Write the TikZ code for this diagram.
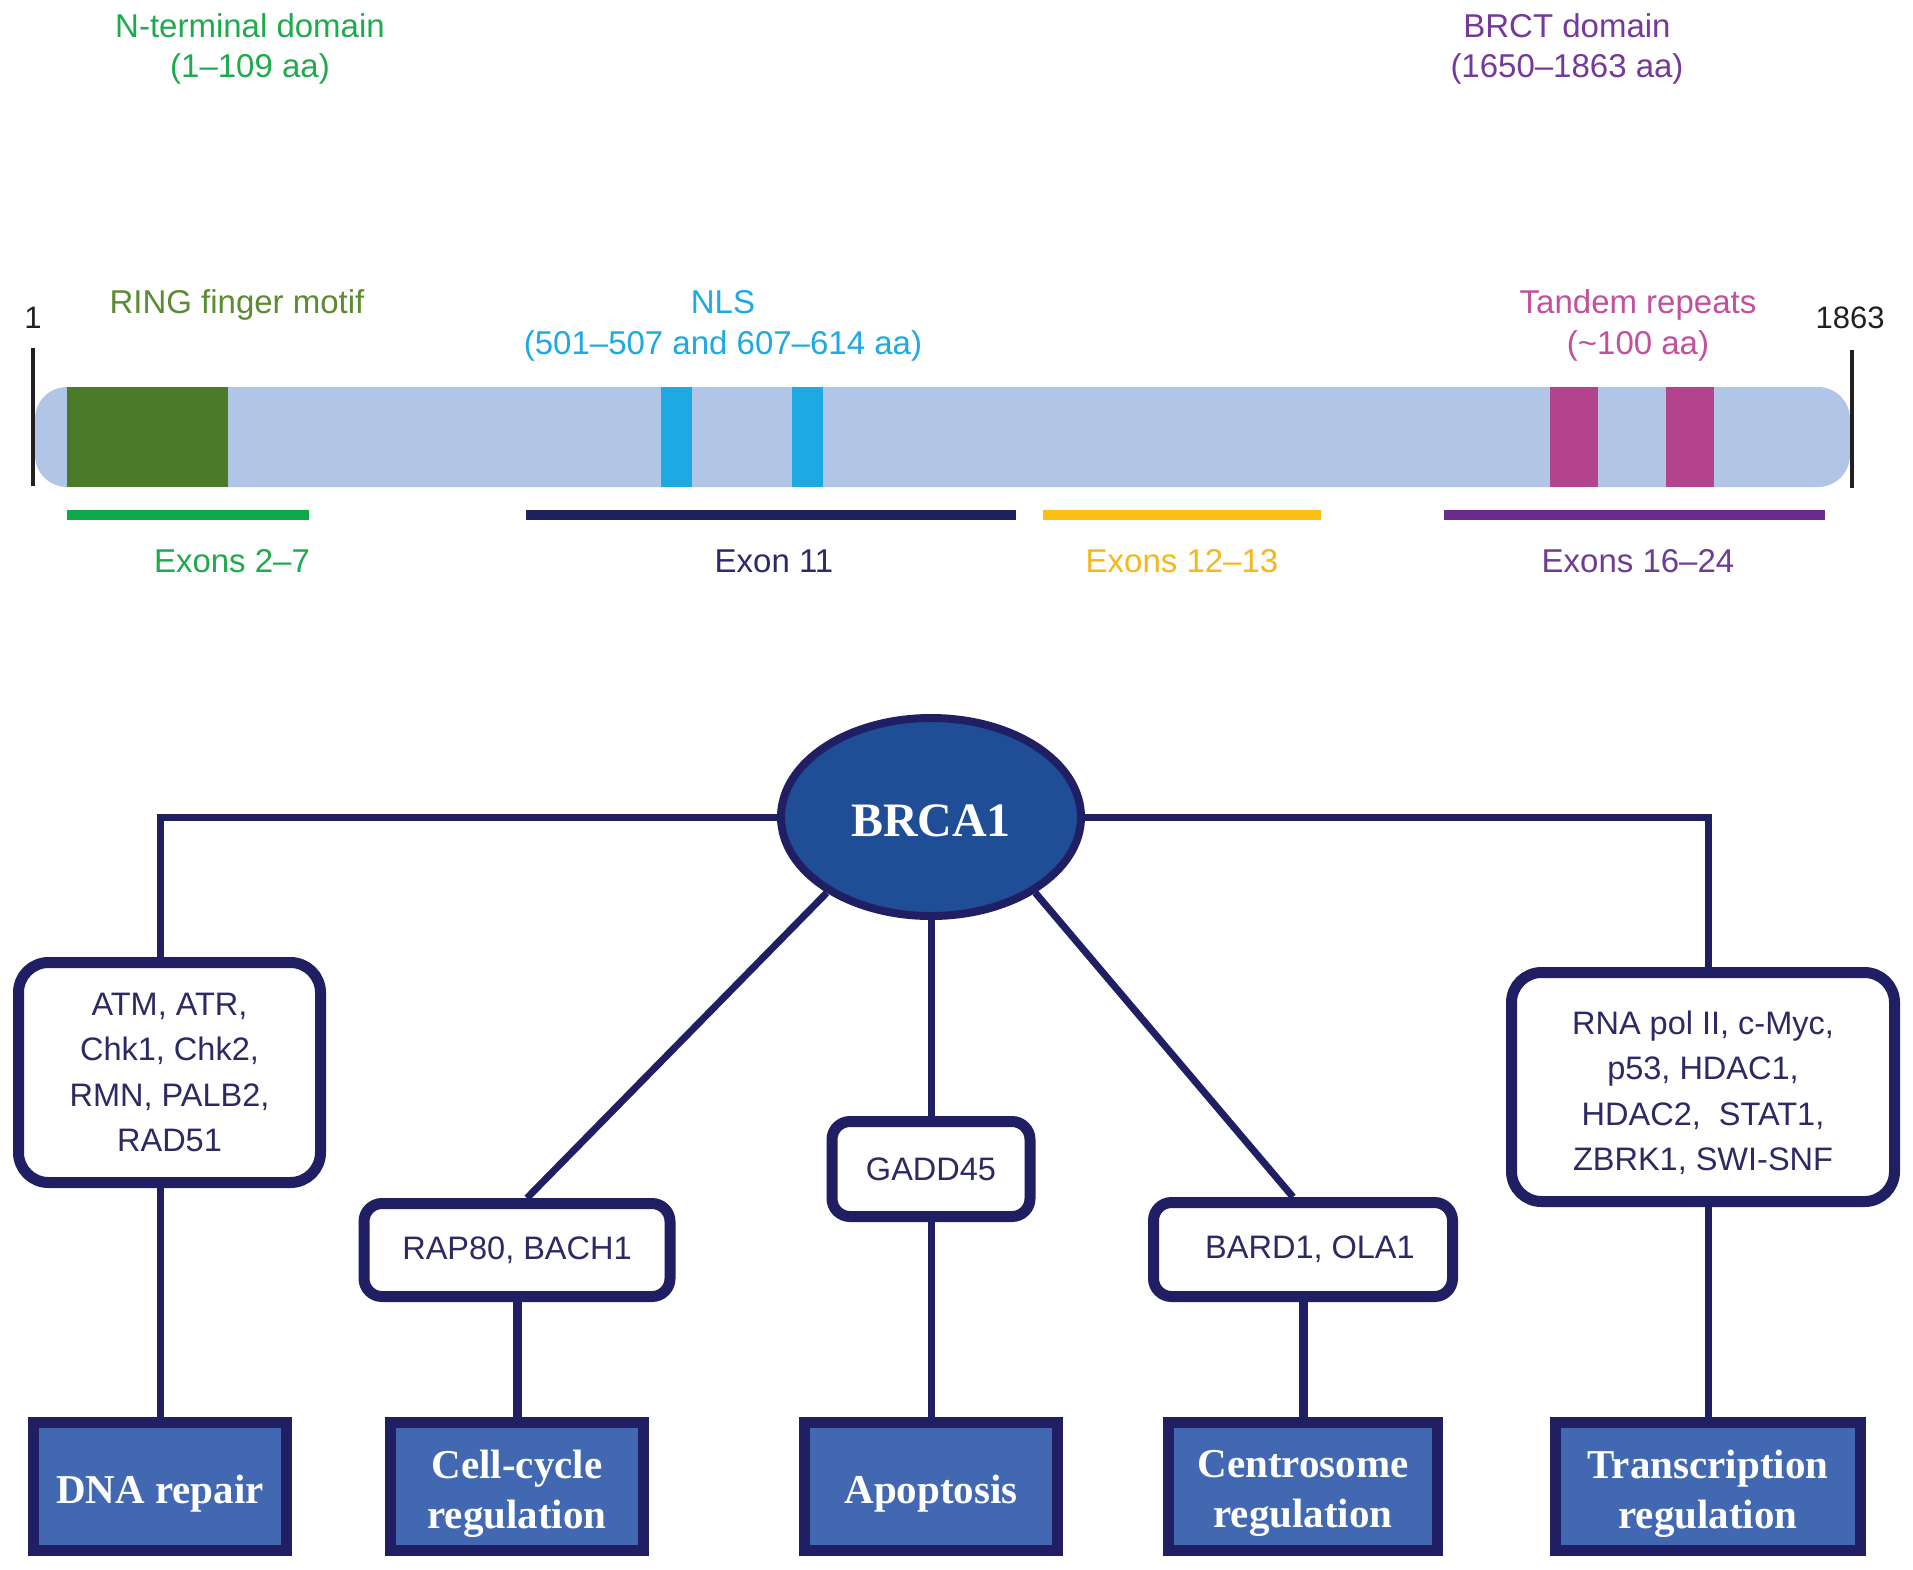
\documentclass[tikz,border=0pt]{standalone}
\usepackage{fontspec}
\setmainfont{Liberation Sans}
\newfontfamily\lsans{Liberation Sans}
\newfontfamily\tnr{Liberation Serif}
\usetikzlibrary{shapes.geometric}
\definecolor{navy}{HTML}{201F63}
\definecolor{boxtext}{HTML}{2B2A63}
\definecolor{ellfill}{HTML}{1F4E96}
\definecolor{boxfill}{HTML}{4268B1}
\definecolor{barfill}{HTML}{B1C5E7}
\definecolor{ringrect}{HTML}{4B7B29}
\definecolor{ringtext}{HTML}{5B8C32}
\definecolor{nlscol}{HTML}{1DA9E1}
\definecolor{tandrect}{HTML}{B4438E}
\definecolor{tandtext}{HTML}{C2509C}
\definecolor{ntgreen}{HTML}{1FAA4E}
\definecolor{brctpurple}{HTML}{74399A}
\definecolor{exgreen}{HTML}{0DA84A}
\definecolor{exnavy}{HTML}{1F2060}
\definecolor{exgold}{HTML}{FDBD13}
\definecolor{expurple}{HTML}{6A2C8C}
\definecolor{lblnavy}{HTML}{2B2B6B}
\definecolor{lblgold}{HTML}{F4B81C}
\definecolor{lblpurple}{HTML}{6E3D91}
\definecolor{tickblack}{HTML}{231F20}
\begin{document}
\begin{tikzpicture}[x=1pt,y=-1pt,
  lbl/.style={anchor=base, font=\lsans\fontsize{33}{40}\selectfont, inner sep=0pt},
  numlbl/.style={anchor=base, font=\lsans\fontsize{31}{38}\selectfont, inner sep=0pt, text=tickblack},
  conn/.style={draw=navy, line width=7pt},
  connthick/.style={draw=navy, line width=9pt},
  exonline/.style={line width=10pt},
  pbox/.style={draw=navy, line width=11pt, fill=white, font=\lsans\fontsize{32.5}{45.5}\selectfont, text=boxtext, align=center, inner sep=0pt},
  ptext/.style={font=\lsans\fontsize{32.5}{45.5}\selectfont, text=boxtext, align=center, inner sep=0pt},
  fbox/.style={draw=navy, line width=11pt, fill=boxfill, inner sep=0pt, minimum height=128pt},
  ftext/.style={font=\tnr\bfseries\fontsize{41}{50}\selectfont, text=white, align=center, inner sep=0pt, yshift=-7pt}]
\useasboundingbox (0,0) rectangle (1913,1569);
\fill[white] (0,0) rectangle (1913,1569);

% ---------- protein map ----------
\node[lbl, text=ntgreen] (nt1) at (250,37) {N-terminal domain};
\node[lbl, text=ntgreen] (nt2) at (250,77) {(1–109 aa)};
\node[lbl, text=brctpurple] (br1) at (1567,37) {BRCT domain};
\node[lbl, text=brctpurple] (br2) at (1567,77) {(1650–1863 aa)};

\node[numlbl] (one) at (33,328) {1};
\node[numlbl] (end) at (1850,328) {1863};
\node[lbl, text=ringtext] (ring) at (237,313) {RING finger motif};
\node[lbl, text=nlscol] (nls1) at (723,313) {NLS};
\node[lbl, text=nlscol] (nls2) at (723,354) {(501–507 and 607–614 aa)};
\node[lbl, text=tandtext] (tr1) at (1638,313) {Tandem repeats};
\node[lbl, text=tandtext] (tr2) at (1638,354) {(\textasciitilde100 aa)};

\fill[barfill, rounded corners=32pt] (35,387) rectangle (1850,487);
\fill[ringrect] (67,387) rectangle (228,487);
\fill[nlscol] (661,387) rectangle (692,487);
\fill[nlscol] (792,387) rectangle (823,487);
\fill[tandrect] (1550,387) rectangle (1598,487);
\fill[tandrect] (1666,387) rectangle (1714,487);
\draw[tickblack, line width=3.5pt] (33,348) -- (33,486);
\draw[tickblack, line width=3.5pt] (1852,350) -- (1852,488);

\draw[exonline, exgreen] (67,515) -- (309,515);
\draw[exonline, exnavy] (526,515) -- (1016,515);
\draw[exonline, exgold] (1043,515) -- (1321,515);
\draw[exonline, expurple] (1444,515) -- (1825,515);

\node[lbl, text=ntgreen] (ex1) at (232,572) {Exons 2–7};
\node[lbl, text=lblnavy] (ex2) at (774,572) {Exon 11};
\node[lbl, text=lblgold] (ex3) at (1182,572) {Exons 12–13};
\node[lbl, text=lblpurple] (ex4) at (1638,572) {Exons 16–24};

% ---------- interaction tree ----------
\node[ellipse, draw=navy, line width=8pt, fill=ellfill, minimum width=300pt, minimum height=198pt, inner sep=0pt,
      label={[text=white, font=\tnr\bfseries\fontsize{48}{56}\selectfont, inner sep=0pt, yshift=-4pt]center:BRCA1}] (brca) at (931,817) {};

\node[pbox, rounded corners=30pt, minimum width=302pt, minimum height=220pt] (atm) at (169.5,1072.5)
  {ATM, ATR,\\Chk1, Chk2,\\RMN, PALB2,\\RAD51};
\node[pbox, rounded corners=30pt, minimum width=383pt, minimum height=229pt,
      label={[ptext, yshift=-6pt]center:RNA pol II, c-Myc,\\p53, HDAC1,\\HDAC2,\ \ STAT1,\\ZBRK1, SWI-SNF}] (rna) at (1703,1087) {};
\node[pbox, rounded corners=18pt, minimum width=306pt, minimum height=93pt] (rap) at (517,1250) {RAP80, BACH1};
\node[pbox, rounded corners=18pt, minimum width=198pt, minimum height=95pt] (gadd) at (931,1169) {GADD45};
\node[pbox, rounded corners=18pt, minimum width=299pt, minimum height=94pt] (bard) at (1303,1249.5) {\hspace*{14pt}BARD1, OLA1};

\node[fbox, minimum width=253pt, label={[ftext]center:DNA repair}] (dna) at (160,1486.5) {};
\node[fbox, minimum width=253pt, label={[ftext]center:Cell-cycle\\regulation}] (cc) at (517,1486.5) {};
\node[fbox, minimum width=253pt, label={[ftext]center:Apoptosis}] (apo) at (931,1486.5) {};
\node[fbox, minimum width=269pt, label={[ftext]center:Centrosome\\regulation}] (cen) at (1303,1486.5) {};
\node[fbox, minimum width=305pt, label={[ftext]center:Transcription\\regulation}] (trn) at (1708,1486.5) {};

\draw[conn] (brca.west) -| (atm.north -| dna.north);
\draw[conn] (brca.east) -| (rna.north -| trn.north);
\draw[conn] (brca.216) -- ([xshift=10pt]rap.north);
\draw[conn] (brca.south) -- (gadd.north);
\draw[conn] (brca.324) -- ([xshift=-10pt]bard.north);

\draw[conn] (atm.south -| dna.north) -- (dna.north);
\draw[connthick] (rap.south) -- (cc.north);
\draw[conn] (gadd.south) -- (apo.north);
\draw[connthick] (bard.south) -- (cen.north);
\draw[conn] (rna.south -| trn.north) -- (trn.north);
\end{tikzpicture}
\end{document}
